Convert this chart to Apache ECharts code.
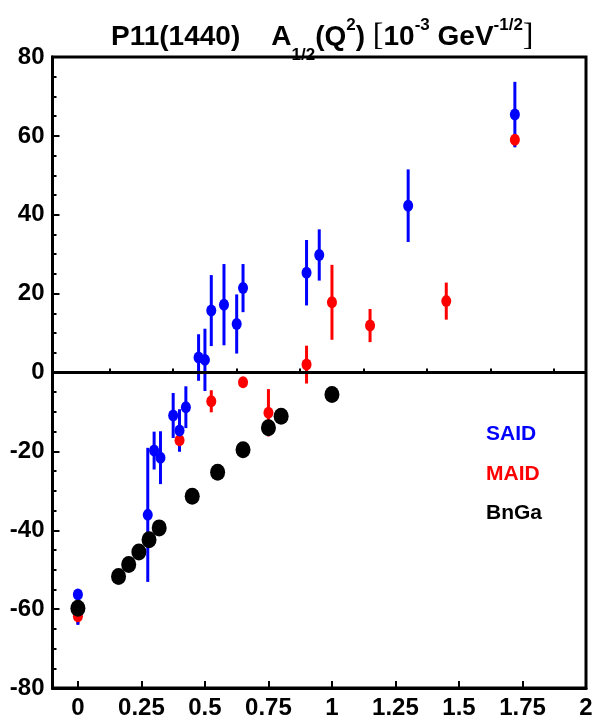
<!DOCTYPE html>
<html>
<head>
<meta charset="utf-8">
<script src="https://cdn.jsdelivr.net/npm/echarts@6/dist/echarts.min.js"></script>
<style>
html,body{margin:0;padding:0;background:#fff;}
#chart{width:597px;height:722px;}
</style>
</head>
<body>
<div id="chart"></div>
<script>
// ---- data ----
const saidX     = [0, 0.275, 0.30, 0.325, 0.375, 0.40, 0.425, 0.475, 0.50, 0.525, 0.575, 0.625, 0.65, 0.90, 0.95, 1.30, 1.72];
const saidY     = [-56.3, -36.1, -19.8, -21.6, -10.9, -14.7, -8.8, 3.8, 3.2, 15.7, 17.2, 12.3, 21.4, 25.3, 29.8, 42.3, 65.4];
const saidErrLo = [7.7, 17, 4.8, 6.7, 5.7, 5.4, 5.3, 5.9, 7.9, 9, 10.3, 7.5, 6.1, 8.3, 6.5, 9.2, 8.3];
const saidErrHi = [1, 17, 4.8, 6.7, 5.7, 5.4, 5.3, 5.9, 7.9, 9, 10.3, 7.5, 6.1, 8.3, 6.5, 9.2, 8.3];

const maidX     = [0, 0.40, 0.525, 0.65, 0.75, 0.90, 1.00, 1.15, 1.45, 1.72];
const maidY     = [-61.8, -17.2, -7.3, -2.5, -10.2, 2.0, 17.8, 11.9, 18.1, 59.0];
const maidErr   = [2, 1.5, 2.8, 1, 6, 4.8, 9.5, 4.2, 4.7, 1.5];

const bngaX     = [0, 0.16, 0.20, 0.24, 0.28, 0.32, 0.45, 0.55, 0.65, 0.75, 0.80, 1.00];
const bngaY     = [-59.8, -51.7, -48.7, -45.5, -42.4, -39.4, -31.4, -25.3, -19.6, -14.0, -11.1, -5.6];

const xTickValues      = [0, 0.25, 0.5, 0.75, 1, 1.25, 1.5, 1.75, 2];
const xMinorTickValues = [0.125, 0.375, 0.625, 0.875, 1.125, 1.375, 1.625, 1.875];
const legendNames  = ['SAID', 'MAID', 'BnGa'];
const legendColors = ['#0000ff', '#ff0000', '#000000'];

// ---- chart ----
const FONT = "'Liberation Sans', Arial, sans-serif";
const chart = echarts.init(document.getElementById('chart'), null, {renderer: 'canvas'});

function errRender(color) {
  return function (params, api) {
    const x = api.value(0), y = api.value(1);
    const lo = api.value(2), hi = api.value(3);
    const p1 = api.coord([x, y - lo]);
    const p2 = api.coord([x, y + hi]);
    return {
      type: 'line',
      shape: {x1: p1[0], y1: p1[1], x2: p2[0], y2: p2[1]},
      style: {stroke: color, lineWidth: 3}
    };
  };
}

const zip2 = (xs, ys) => xs.map((x, i) => [x, ys[i]]);
const zip4 = (xs, ys, lo, hi) => xs.map((x, i) => [x, ys[i], lo[i], hi[i]]);

const option = {
  backgroundColor: '#fff',
  animation: false,
  title: {
    left: 106,
    top: 12,
    text: '{b|P11(1440)    A}{sub|1/2}{b|(Q}{sup|2}{b|) }{br|[}{b|10}{sup|-3}{b| GeV}{sup|-1/2}{br|]}',
    textStyle: {
      rich: {
        b:   {fontFamily: FONT, fontWeight: 'bold', fontSize: 28, lineHeight: 28, padding: [6, 0, 0, 0], verticalAlign: 'top', color: '#000'},
        sup: {fontFamily: FONT, fontWeight: 'bold', fontSize: 17, lineHeight: 17, padding: [0, 0, 0, 0], verticalAlign: 'top', color: '#000'},
        sub: {fontFamily: FONT, fontWeight: 'bold', fontSize: 17, lineHeight: 17, padding: [30, 0, 0, 0], verticalAlign: 'top', color: '#000'},
        br:  {fontFamily: "'Liberation Serif', 'Times New Roman', serif", fontWeight: 'normal', fontSize: 32, lineHeight: 32, padding: [4, 0, 0, 0], verticalAlign: 'top', color: '#000'}
      }
    }
  },
  legend: {
    data: legendNames.map((n, i) => ({name: n, textStyle: {color: legendColors[i]}})),
    orient: 'vertical',
    left: 475,
    top: 419,
    icon: 'none',
    itemWidth: 1,
    itemHeight: 21,
    itemGap: 18.5,
    selectedMode: false,
    textStyle: {fontFamily: FONT, fontWeight: 'bold', fontSize: 21}
  },
  grid: {
    left: 52.5, right: 11, top: 57, bottom: 34,
    show: true, borderColor: '#000', borderWidth: 3,
    containLabel: false
  },
  xAxis: [
    {
      type: 'value', min: -0.1, max: 2, position: 'bottom',
      axisLine: {show: true, onZero: false, lineStyle: {color: '#000', width: 3}},
      axisTick: {show: true, inside: true, length: 7, customValues: xTickValues, lineStyle: {color: '#000', width: 2}},
      axisLabel: {show: true, customValues: xTickValues, margin: 8, color: '#000', fontFamily: FONT, fontWeight: 'bold', fontSize: 24},
      splitLine: {show: false}
    },
    {
      type: 'value', min: -0.1, max: 2, position: 'bottom',
      axisLine: {show: false},
      axisTick: {show: true, inside: true, length: 4, customValues: xMinorTickValues, lineStyle: {color: '#000', width: 2}},
      axisLabel: {show: false},
      splitLine: {show: false}
    }
  ],
  yAxis: {
    type: 'value', min: -80, max: 80, interval: 20,
    axisLine: {show: true, onZero: false, lineStyle: {color: '#000', width: 3}},
    axisTick: {show: true, inside: true, length: 7, lineStyle: {color: '#000', width: 2}},
    minorTick: {show: true, splitNumber: 4, length: 4, lineStyle: {color: '#000', width: 2}},
    axisLabel: {margin: 8, color: '#000', fontFamily: FONT, fontWeight: 'bold', fontSize: 24},
    splitLine: {show: false},
    minorSplitLine: {show: false}
  },
  series: [
    {
      name: 'zero', type: 'line', data: [], silent: true,
      markLine: {
        silent: true, symbol: 'none', label: {show: false},
        lineStyle: {color: '#000', width: 3, type: 'solid'},
        data: [{yAxis: 0}]
      }
    },
    {
      name: 'MAID', type: 'custom', xAxisIndex: 0, renderItem: errRender('#ff0000'),
      data: zip4(maidX, maidY, maidErr, maidErr), encode: {x: 0, y: 1}, z: 2
    },
    {
      name: 'MAID', type: 'scatter', xAxisIndex: 0, symbol: 'circle', symbolSize: [10, 12],
      itemStyle: {color: '#ff0000', opacity: 1}, data: zip2(maidX, maidY), z: 2
    },
    {
      name: 'SAID', type: 'custom', xAxisIndex: 0, renderItem: errRender('#0000ff'),
      data: zip4(saidX, saidY, saidErrLo, saidErrHi), encode: {x: 0, y: 1}, z: 2
    },
    {
      name: 'SAID', type: 'scatter', xAxisIndex: 0, symbol: 'circle', symbolSize: [10, 12],
      itemStyle: {color: '#0000ff', opacity: 1}, data: zip2(saidX, saidY), z: 2
    },
    {
      name: 'BnGa', type: 'scatter', xAxisIndex: 0, symbol: 'circle', symbolSize: [15, 17],
      itemStyle: {color: '#000000', opacity: 1}, data: zip2(bngaX, bngaY), z: 2
    }
  ]
};
chart.setOption(option);
</script>
</body>
</html>
